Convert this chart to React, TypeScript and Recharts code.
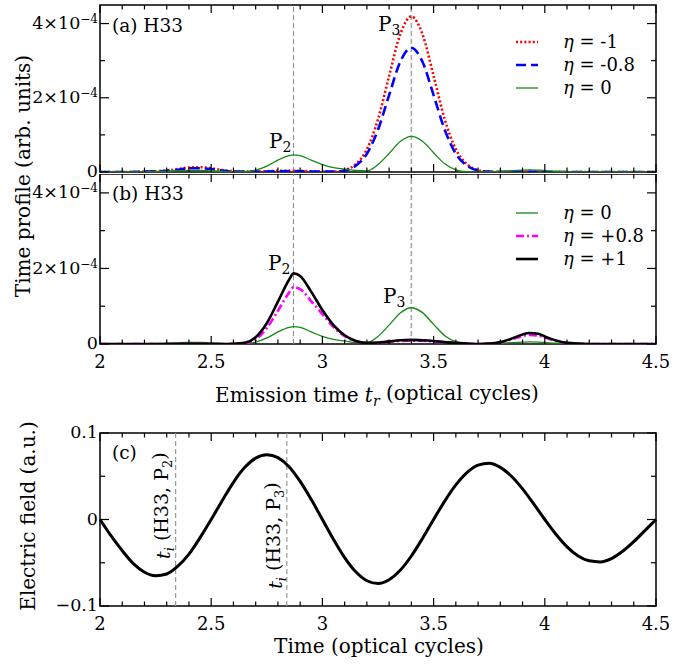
import React from "react";
import {
  Legend,
  Line,
  LineChart,
  ReferenceArea,
  ReferenceDot,
  ReferenceLine,
  XAxis,
  YAxis,
} from "recharts";

const SERIF = "'DejaVu Serif', 'Liberation Serif', serif";

// emission time grid (optical cycles), profiles in units of 1e-4
const emissionTime = [
  2.0, 2.1, 2.2, 2.3, 2.35, 2.4, 2.45, 2.5, 2.55, 2.6, 2.65, 2.7, 2.75, 2.8, 2.85, 2.87, 2.9, 2.95,
  3.0, 3.05, 3.1, 3.15, 3.2, 3.25, 3.3, 3.35, 3.4, 3.45, 3.5, 3.55, 3.6, 3.65, 3.7, 3.75, 3.8, 3.85,
  3.9, 3.93, 3.97, 4.0, 4.05, 4.1, 4.2, 4.3, 4.5,
];
const etaZero = [
  0, 0, 0.005, 0.02, 0.035, 0.045, 0.045, 0.03, 0.015, 0.005, 0.01, 0.05, 0.16, 0.32, 0.44, 0.46,
  0.44, 0.32, 0.2, 0.12, 0.08, 0.04, 0.03, 0.2, 0.5, 0.82, 0.96, 0.83, 0.52, 0.22, 0.06, 0.01, 0,
  0.005, 0.015, 0.035, 0.05, 0.055, 0.05, 0.04, 0.02, 0.01, 0, 0, 0,
];
const etaMinus1 = [
  0, 0, 0.01, 0.04, 0.08, 0.12, 0.13, 0.1, 0.05, 0.02, 0.01, 0.01, 0.02, 0.03, 0.03, 0.03, 0.03,
  0.02, 0.01, 0.01, 0.05, 0.21, 0.61, 1.42, 2.59, 3.71, 4.19, 3.71, 2.59, 1.42, 0.61, 0.21, 0.05,
  0.01, 0.005, 0.01, 0.01, 0.01, 0.01, 0.005, 0, 0, 0, 0, 0,
];
const etaMinus08 = [
  0, 0, 0.01, 0.03, 0.06, 0.1, 0.1, 0.08, 0.04, 0.015, 0.01, 0.01, 0.015, 0.02, 0.025, 0.025, 0.02,
  0.015, 0.01, 0.01, 0.04, 0.17, 0.49, 1.14, 2.07, 2.97, 3.35, 2.97, 2.07, 1.14, 0.49, 0.17, 0.04,
  0.01, 0.005, 0.005, 0.005, 0.005, 0.005, 0, 0, 0, 0, 0, 0,
];
const etaPlus08 = [
  0, 0, 0, 0, 0, 0.005, 0.005, 0, 0, 0.005, 0.02, 0.12, 0.42, 0.88, 1.36, 1.5, 1.45, 1.13, 0.79,
  0.45, 0.21, 0.07, 0.025, 0.035, 0.06, 0.08, 0.09, 0.085, 0.07, 0.045, 0.025, 0.01, 0, 0.01, 0.04,
  0.12, 0.21, 0.24, 0.22, 0.17, 0.08, 0.025, 0, 0, 0,
];
const etaPlus1 = [
  0, 0, 0, 0, 0, 0.005, 0.005, 0, 0, 0.005, 0.03, 0.18, 0.55, 1.12, 1.7, 1.87, 1.8, 1.38, 0.9, 0.5,
  0.23, 0.08, 0.03, 0.04, 0.07, 0.1, 0.11, 0.1, 0.08, 0.05, 0.03, 0.01, 0, 0.01, 0.05, 0.14, 0.25,
  0.29, 0.27, 0.2, 0.09, 0.03, 0, 0, 0,
];

// driving field (a.u.)
const fieldTime = [
  2.0, 2.05, 2.1, 2.15, 2.2, 2.25, 2.3, 2.35, 2.4, 2.45, 2.5, 2.55, 2.6, 2.65, 2.7, 2.75, 2.8, 2.85,
  2.9, 2.95, 3.0, 3.05, 3.1, 3.15, 3.2, 3.25, 3.3, 3.35, 3.4, 3.45, 3.5, 3.55, 3.6, 3.65, 3.7, 3.75,
  3.8, 3.85, 3.9, 3.95, 4.0, 4.05, 4.1, 4.15, 4.2, 4.25, 4.3, 4.35, 4.4, 4.45, 4.5,
];
const fieldValue = [
  0, -0.019, -0.036, -0.051, -0.061, -0.065, -0.063, -0.054, -0.04, -0.021, 0, 0.022, 0.043, 0.06,
  0.071, 0.075, 0.0715, 0.061, 0.044, 0.023, 0, -0.023, -0.044, -0.0605, -0.0708, -0.074, -0.0696,
  -0.0587, -0.0422, -0.0219, 0, 0.0213, 0.04, 0.0542, 0.0628, 0.065, 0.0603, 0.05, 0.0354, 0.0181,
  0, -0.0171, -0.0316, -0.0422, -0.0478, -0.049, -0.0452, -0.0367, -0.0256, -0.0129, 0,
];

const timeTicks = [
  2, 2.1, 2.2, 2.3, 2.4, 2.5, 2.6, 2.7, 2.8, 2.9, 3, 3.1, 3.2, 3.3, 3.4, 3.5, 3.6, 3.7, 3.8, 3.9, 4,
  4.1, 4.2, 4.3, 4.4, 4.5,
];
const profileTicks = [0, 1, 2, 3, 4];
const fieldTicks = [-0.1, -0.05, 0, 0.05, 0.1];

const peakP2 = 2.87;
const peakP3 = 3.4;
const ionP2 = 2.34;
const ionP3 = 2.84;

const profileRows = emissionTime.map((t, i) => ({
  t,
  m1: etaMinus1[i],
  m08: etaMinus08[i],
  zero: etaZero[i],
  p08: etaPlus08[i],
  p1: etaPlus1[i],
}));
const fieldRows = fieldTime.map((t, i) => ({ t, e: fieldValue[i] }));

type Style = { key: string; label: string; color: string; width: number; dash?: string };
const S_M1: Style = { key: "m1", label: "-1", color: "#ff0000", width: 2.6, dash: "2 2.2" };
const S_M08: Style = { key: "m08", label: "-0.8", color: "#0000ff", width: 2.6, dash: "10 5" };
const S_ZERO: Style = { key: "zero", label: "0", color: "#128a12", width: 1.3 };
const S_P08: Style = { key: "p08", label: "+0.8", color: "#ff00ff", width: 2.6, dash: "8 3 2 3" };
const S_P1: Style = { key: "p1", label: "+1", color: "#000000", width: 2.6 };

const W = 693;
const PLOT_LEFT = 100;
const PLOT_W = 556;
const MARGIN_R = W - PLOT_LEFT - PLOT_W;

const isHalf = (v: number) => Math.abs(v * 2 - Math.round(v * 2)) < 1e-6;

function xTick(plotH: number, labels: boolean) {
  return (p: any) => {
    const { x, y, payload } = p;
    const v = payload.value as number;
    const major = isHalf(v);
    const len = major ? 8 : 4.5;
    return (
      <g>
        <line x1={x} x2={x} y1={y} y2={y - len} stroke="#000" strokeWidth={1.2} />
        <line x1={x} x2={x} y1={y - plotH} y2={y - plotH + len} stroke="#000" strokeWidth={1.2} />
        {labels && major && (
          <text x={x} y={y + 24} textAnchor="middle" fontFamily={SERIF} fontSize={18} fill="#000">
            {String(v)}
          </text>
        )}
      </g>
    );
  };
}

function yTick(isMajor: (v: number) => boolean, label: (v: number) => React.ReactNode) {
  return (p: any) => {
    const { x, y, payload } = p;
    const v = payload.value as number;
    const major = isMajor(v);
    const len = major ? 9 : 5;
    return (
      <g>
        <line x1={x} x2={x + len} y1={y} y2={y} stroke="#000" strokeWidth={1.2} />
        <line x1={x + PLOT_W} x2={x + PLOT_W - len} y1={y} y2={y} stroke="#000" strokeWidth={1.2} />
        {major && (
          <text x={x - 2} y={y} dy="0.3em" textAnchor="end" fontFamily={SERIF} fontSize={17.5} fill="#000">
            {label(v)}
          </text>
        )}
      </g>
    );
  };
}

const profileLabel = (v: number) =>
  v === 0 ? (
    "0"
  ) : (
    <>
      {v}×10
      <tspan dy="-0.5em" fontSize={12}>
        −4
      </tspan>
    </>
  );
const fieldLabel = (v: number) => (v === 0 ? "0" : v < 0 ? "−0.1" : "0.1");

function pLabel(sub: string, dx: number) {
  return (p: any) => (
    <text x={p.cx + dx} y={p.cy} textAnchor="end" fontFamily={SERIF} fontSize={20} fill="#000">
      P
      <tspan fontSize={14} dy="0.3em">
        {sub}
      </tspan>
    </text>
  );
}

function tiLabel(sub: string, dx: number) {
  return (p: any) => {
    const x = p.cx + dx;
    const y = p.cy;
    return (
      <text
        transform={`rotate(-90 ${x} ${y})`}
        x={x}
        y={y}
        textAnchor="middle"
        fontFamily={SERIF}
        fontSize={19}
        fill="#000"
      >
        <tspan fontStyle="italic">t</tspan>
        <tspan fontStyle="italic" fontSize={13} dy="0.3em">
          i
        </tspan>
        <tspan dy="-0.3em"> (H33, P</tspan>
        <tspan fontSize={13} dy="0.3em">
          {sub}
        </tspan>
        <tspan dy="-0.3em">)</tspan>
      </text>
    );
  };
}

function EtaLegend({ rows }: { rows: Style[] }) {
  return (
    <div style={{ display: "flex", flexDirection: "column" }}>
      {rows.map((r) => (
        <div key={r.key} style={{ display: "flex", alignItems: "center", height: 23 }}>
          <svg width={22} height={10} style={{ display: "block" }}>
            <line x1={0} x2={22} y1={5} y2={5} stroke={r.color} strokeWidth={r.width} strokeDasharray={r.dash} />
          </svg>
          <span style={{ marginLeft: 25, fontFamily: SERIF, fontSize: 18, color: "#000", whiteSpace: "nowrap" }}>
            <i>η</i> = {r.label}
          </span>
        </div>
      ))}
    </div>
  );
}

function series(s: Style) {
  return (
    <Line
      key={s.key}
      type="monotone"
      dataKey={s.key}
      stroke={s.color}
      strokeWidth={s.width}
      strokeDasharray={s.dash}
      dot={false}
      isAnimationActive={false}
    />
  );
}

function ProfilePanel({
  height,
  top,
  xAxisH,
  lines,
  legendTop,
  labels,
  p2y,
  p3y,
  p2dx,
  p3dx,
}: {
  height: number;
  top: number;
  xAxisH: number;
  lines: Style[];
  legendTop: number;
  labels: boolean;
  p2y: number;
  p3y: number;
  p2dx: number;
  p3dx: number;
}) {
  const plotH = height - top - xAxisH;
  return (
    <LineChart width={W} height={height} data={profileRows} margin={{ top, right: MARGIN_R, bottom: 0, left: 0 }}>
      <XAxis
        type="number"
        dataKey="t"
        domain={[2, 4.5]}
        ticks={timeTicks}
        interval={0}
        height={xAxisH}
        axisLine={false}
        tickLine={false}
        tickSize={0}
        tickMargin={0}
        tick={xTick(plotH, labels)}
      />
      <YAxis
        type="number"
        domain={[0, 4.5]}
        ticks={profileTicks}
        interval={0}
        width={PLOT_LEFT}
        axisLine={false}
        tickLine={false}
        tickSize={0}
        tickMargin={0}
        allowDataOverflow
        tick={yTick((v) => v % 2 === 0, profileLabel)}
      />
      <ReferenceLine x={peakP2} stroke="#8c8c8c" strokeDasharray="5 3" strokeWidth={1.1} />
      <ReferenceLine x={peakP3} stroke="#a8a8a8" strokeDasharray="5 3" strokeWidth={1.6} />
      {lines.map(series)}
      <ReferenceArea x1={2} x2={4.5} y1={0} y2={4.5} fill="none" fillOpacity={0} stroke="#000" strokeWidth={1.5} />
      <ReferenceDot x={peakP2} y={p2y} r={0} shape={pLabel("2", p2dx)} />
      <ReferenceDot x={peakP3} y={p3y} r={0} shape={pLabel("3", p3dx)} />
      <Legend
        layout="vertical"
        align="center"
        verticalAlign="middle"
        wrapperStyle={{ left: 516, top: legendTop, width: 160 }}
        content={() => <EtaLegend rows={lines} />}
      />
    </LineChart>
  );
}

function FieldPanel() {
  const top = 23;
  const xAxisH = 58;
  const height = 254;
  const plotH = height - top - xAxisH;
  return (
    <LineChart width={W} height={height} data={fieldRows} margin={{ top, right: MARGIN_R, bottom: 0, left: 0 }}>
      <XAxis
        type="number"
        dataKey="t"
        domain={[2, 4.5]}
        ticks={timeTicks}
        interval={0}
        height={xAxisH}
        axisLine={false}
        tickLine={false}
        tickSize={0}
        tickMargin={0}
        tick={xTick(plotH, true)}
      />
      <YAxis
        type="number"
        domain={[-0.1, 0.1]}
        ticks={fieldTicks}
        interval={0}
        width={PLOT_LEFT}
        axisLine={false}
        tickLine={false}
        tickSize={0}
        tickMargin={0}
        tick={yTick((v) => Math.abs(v * 10 - Math.round(v * 10)) < 1e-6, fieldLabel)}
      />
      <ReferenceLine x={ionP2} stroke="#9a9a9a" strokeDasharray="5 3" strokeWidth={1.2} />
      <ReferenceLine x={ionP3} stroke="#9a9a9a" strokeDasharray="5 3" strokeWidth={1.2} />
      <Line type="monotone" dataKey="e" stroke="#000" strokeWidth={3} dot={false} isAnimationActive={false} />
      <ReferenceArea x1={2} x2={4.5} y1={-0.1} y2={0.1} fill="none" fillOpacity={0} stroke="#000" strokeWidth={1.5} />
      <ReferenceDot x={ionP2} y={0.016} r={0} shape={tiLabel("2", -6)} />
      <ReferenceDot x={ionP3} y={-0.0185} r={0} shape={tiLabel("3", -5)} />
    </LineChart>
  );
}

export default function App() {
  const text = { fontFamily: SERIF, fill: "#000" };
  return (
    <div style={{ position: "absolute", left: 0, top: 0, width: W, height: 664, background: "#fff" }}>
      <div style={{ position: "absolute", left: 0, top: 0 }}>
        <ProfilePanel
          height={190}
          top={5}
          xAxisH={18}
          lines={[S_M1, S_M08, S_ZERO]}
          legendTop={30}
          labels={false}
          p2y={0.65}
          p3y={3.81}
          p2dx={-2}
          p3dx={-11}
        />
      </div>
      <div style={{ position: "absolute", left: 0, top: 174 }}>
        <ProfilePanel
          height={240}
          top={0}
          xAxisH={70}
          lines={[S_ZERO, S_P08, S_P1]}
          legendTop={27}
          labels
          p2y={1.96}
          p3y={1.08}
          p2dx={-3}
          p3dx={-6}
        />
      </div>
      <div style={{ position: "absolute", left: 0, top: 410 }}>
        <FieldPanel />
      </div>
      <svg
        width={W}
        height={664}
        style={{ position: "absolute", left: 0, top: 0, pointerEvents: "none" }}
      >
        <text {...text} fontSize={18.5} x={112} y={32}>
          (a) H33
        </text>
        <text {...text} fontSize={18.5} x={112} y={200}>
          (b) H33
        </text>
        <text {...text} fontSize={18.5} x={112} y={459}>
          (c)
        </text>
        <text {...text} fontSize={20} x={30} y={176} textAnchor="middle" transform="rotate(-90 30 176)">
          Time profile (arb. units)
        </text>
        <text {...text} fontSize={20} x={35} y={516} textAnchor="middle" transform="rotate(-90 35 516)">
          Electric field (a.u.)
        </text>
        <text {...text} fontSize={20} x={377} y={402} textAnchor="middle">
          Emission time <tspan fontStyle="italic">t</tspan>
          <tspan fontStyle="italic" fontSize={14} dy="0.3em">
            r
          </tspan>
          <tspan dy="-0.3em"> (optical cycles)</tspan>
        </text>
        <text {...text} fontSize={20} x={379} y={653} textAnchor="middle">
          Time (optical cycles)
        </text>
      </svg>
    </div>
  );
}
